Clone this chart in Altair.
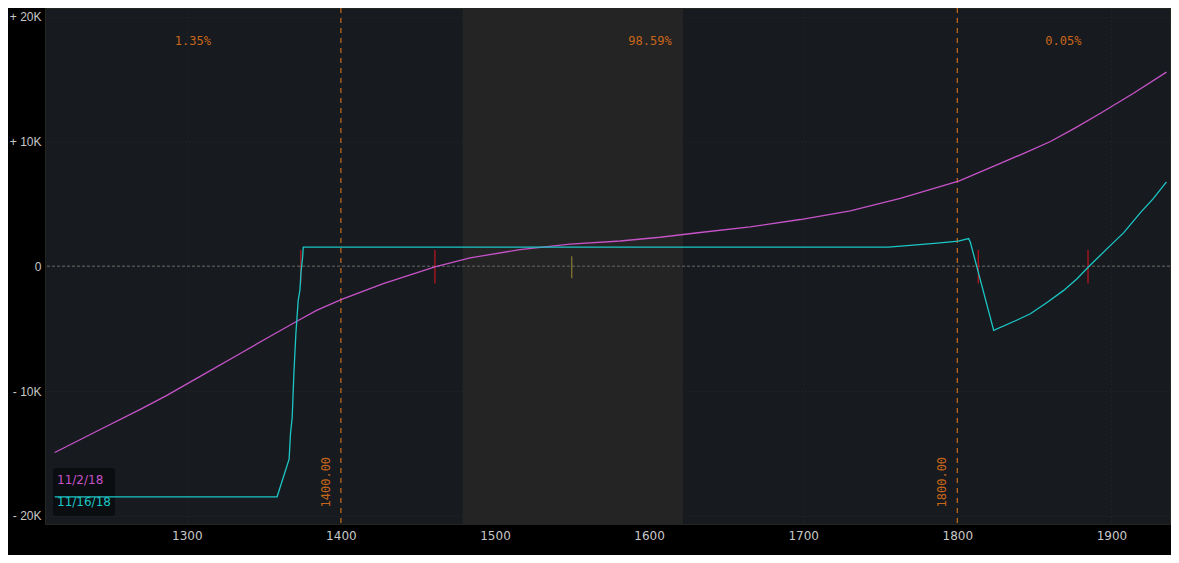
import altair as alt
import pandas as pd

# ---- data ----
mag_price = [1214.3, 1243.5, 1269.5, 1286.8, 1308.4, 1334.4, 1353.9, 1372.3, 1384.2, 1400.5,
             1427.5, 1461.0, 1483.8, 1516.2, 1548.7, 1581.2, 1607.1, 1633.1, 1665.6, 1698.1,
             1730.5, 1763.0, 1801.3, 1827.9, 1845.0, 1860.4, 1876.0, 1892.9, 1914.3, 1935.7]
mag_pl = [-14920, -13100, -11490, -10360, -8840, -7010, -5620, -4340, -3530, -2650,
          -1390, -50, 670, 1340, 1770, 2030, 2330, 2710, 3160, 3750,
          4440, 5440, 6850, 8250, 9150, 10000, 11050, 12270, 13870, 15560]

cyan_price = [1214.3, 1358.6, 1366.4, 1367.3, 1368.4, 1369.5, 1370.8, 1372.3, 1373.4, 1374.2,
              1375.1, 1375.6, 1755.2, 1771.4, 1787.0, 1800.6, 1807.3, 1808.4, 1823.6, 1838.8,
              1847.4, 1858.2, 1869.0, 1877.7, 1885.5, 1900.4, 1908.0, 1918.8, 1927.0, 1935.7]
cyan_pl = [-18470, -18470, -15450, -13410, -12100, -8590, -5380, -2730, -1930, -320,
           640, 1530, 1530, 1690, 1850, 2010, 2220, 1950, -5140, -4300,
           -3800, -2900, -1930, -1000, 0, 1800, 2700, 4300, 5400, 6770]

series_names = ["11/2/18", "11/16/18"]
series_colors = ["#c653c8", "#1cc6c6"]

strike_lines = [1400, 1800]
strike_labels = ["1400.00", "1800.00"]

prob_x = [1303.9, 1600.6, 1868.8]
prob_labels = ["1.35%", "98.59%", "0.05%"]

breakeven_x = [1374.0, 1461.0, 1813.6, 1884.8]
current_price = [1549.8]

zone_start = [1479.0]
zone_end = [1622.0]

x_ticks = [1300, 1400, 1500, 1600, 1700, 1800, 1900]
y_ticks = [-20000, -10000, 0, 10000, 20000]
y_tick_labels = ["- 20K", "- 10K", "0", "+ 10K", "+ 20K"]

X_DOMAIN = [1208, 1938]
Y_DOMAIN = [-20650, 20700]
W, H = 1125, 516

# ---- frames ----
lines_df = pd.DataFrame(
    [{"price": p, "pl": v, "series": series_names[0], "ord": i} for i, (p, v) in enumerate(zip(mag_price, mag_pl))]
    + [{"price": p, "pl": v, "series": series_names[1], "ord": i} for i, (p, v) in enumerate(zip(cyan_price, cyan_pl))]
)
strike_df = pd.DataFrame({"price": strike_lines, "label": strike_labels, "y": [-17300, -17300]})
prob_df = pd.DataFrame({"price": prob_x, "label": prob_labels, "y": [18070] * 3})
be_df = pd.DataFrame({"price": breakeven_x, "lo": [-1380] * 4, "hi": [1300] * 4})
cur_df = pd.DataFrame({"price": current_price, "lo": [-950], "hi": [800]})
zone_df = pd.DataFrame({"x1": zone_start, "x2": zone_end})
zero_df = pd.DataFrame({"pl": [0]})
legend_df = pd.DataFrame({"label": series_names, "color": series_colors, "ypx": [472, 494]})

label_map = "{" + ",".join(f"'{v}':'{l}'" for v, l in zip(y_ticks, y_tick_labels)) + "}"

xs = alt.Scale(domain=X_DOMAIN, nice=False, zero=False)
ys = alt.Scale(domain=Y_DOMAIN, nice=False, zero=False)

x_axis = alt.Axis(values=x_ticks, format="d", title=None, grid=True, gridColor="#262a30",
                  gridDash=[1, 3], gridOpacity=1, domain=False, ticks=False, labelColor="#c8c8c8",
                  labelFontSize=12, labelPadding=6, labelFont="DejaVu Sans")
y_axis = alt.Axis(values=y_ticks, title=None, grid=True, gridColor="#262a30", gridDash=[1, 3],
                  domain=False, ticks=False, labelColor="#c8c8c8", labelFontSize=12, labelPadding=4,
                  labelFont="Liberation Sans", labelExpr=f"{label_map}[datum.value + '']")

zone = alt.Chart(zone_df).mark_rect(color="#242424").encode(
    x=alt.X("x1:Q", scale=xs, axis=x_axis), x2="x2:Q", y=alt.value(0), y2=alt.value(H)
)

zero = alt.Chart(zero_df).mark_rule(color="#4e4e4e", strokeWidth=1.5, strokeDash=[3, 2]).encode(
    y=alt.Y("pl:Q", scale=ys, axis=y_axis)
)

strikes = alt.Chart(strike_df).mark_rule(color="#b8651a", strokeWidth=1.3, strokeDash=[5, 5]).encode(
    x=alt.X("price:Q", scale=xs)
)
strike_text = alt.Chart(strike_df).mark_text(
    color="#c8661a", angle=270, fontSize=12, font="DejaVu Sans Mono", dy=-15, align="center", baseline="middle"
).encode(x=alt.X("price:Q", scale=xs), y=alt.Y("y:Q", scale=ys), text="label:N")

prob_text = alt.Chart(prob_df).mark_text(color="#c8661a", fontSize=12, font="DejaVu Sans Mono").encode(
    x=alt.X("price:Q", scale=xs), y=alt.Y("y:Q", scale=ys), text="label:N"
)

legend_box = alt.Chart(pd.DataFrame({"a": [0]})).mark_rect(color="#0b0e11", cornerRadius=3).encode(
    x=alt.value(8), x2=alt.value(70), y=alt.value(460), y2=alt.value(508)
)

be = alt.Chart(be_df).mark_rule(color="#c0141e", strokeWidth=1.2).encode(
    x=alt.X("price:Q", scale=xs), y=alt.Y("lo:Q", scale=ys), y2="hi:Q"
)
cur = alt.Chart(cur_df).mark_rule(color="#8a7a32", strokeWidth=1.2).encode(
    x=alt.X("price:Q", scale=xs), y=alt.Y("lo:Q", scale=ys), y2="hi:Q"
)

lines = alt.Chart(lines_df).mark_line(strokeWidth=1.3).encode(
    x=alt.X("price:Q", scale=xs),
    y=alt.Y("pl:Q", scale=ys),
    color=alt.Color("series:N", scale=alt.Scale(domain=series_names, range=series_colors), legend=None),
    order="ord:Q",
)

legend_text = alt.Chart(legend_df).mark_text(align="left", baseline="middle", fontSize=12,
                                             font="DejaVu Sans").encode(
    x=alt.value(12), y=alt.Y("ypx:Q", scale=None), text="label:N",
    color=alt.Color("color:N", scale=None, legend=None)
)

chart = alt.layer(zone, zero, strikes, strike_text, prob_text, legend_box, be, cur, lines, legend_text).properties(
    width=W, height=H, background="#000000",
    padding={"left": 37, "top": 0, "right": 1, "bottom": 31},
    autosize=alt.AutoSizeParams(type="none"),
).configure_view(fill="#171b1f", stroke="#24261f", strokeWidth=1)

chart.save("out.html", embed_options={"renderer": "svg", "actions": False})
